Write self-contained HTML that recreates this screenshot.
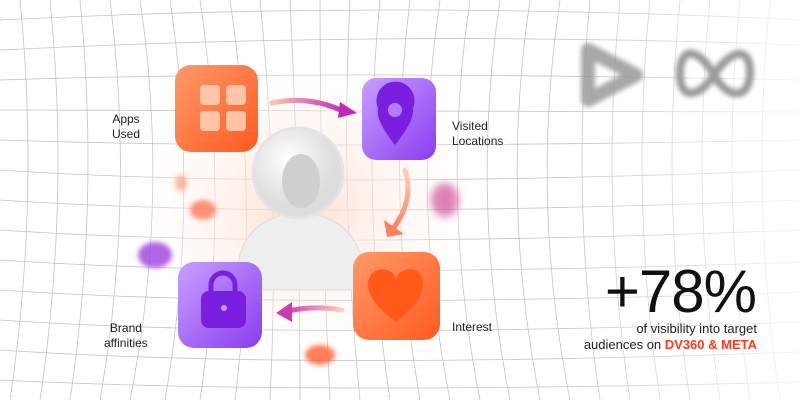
<!DOCTYPE html>
<html><head><meta charset="utf-8"><style>
html,body{margin:0;padding:0;background:#fff}
#w{position:relative;width:800px;height:400px;overflow:hidden;font-family:"Liberation Sans",sans-serif}
.l{position:absolute;font-size:12px;color:#222;line-height:15px}
</style></head><body><div id="w">
<svg width="800" height="400" style="position:absolute;left:0;top:0">
<defs>
<radialGradient id="glow" cx="50%" cy="50%" r="50%"><stop offset="0" stop-color="#ffd9c8" stop-opacity=".9"/><stop offset="1" stop-color="#fff" stop-opacity="0"/></radialGradient>
<linearGradient id="og" x1="0" y1="0" x2="1" y2="1"><stop offset="0" stop-color="#ff9a6a"/><stop offset="1" stop-color="#ff5a1f"/></linearGradient>
<linearGradient id="pg" x1="0" y1="0" x2="1" y2="1"><stop offset="0" stop-color="#c9a0ff"/><stop offset="1" stop-color="#8a3cf0"/></linearGradient>
<linearGradient id="ar1" x1="0" x2="1"><stop offset="0" stop-color="#ffc3b0"/><stop offset="1" stop-color="#c02ab8"/></linearGradient>
<linearGradient id="ar2" x1="0" y1="0" x2="0" y2="1"><stop offset="0" stop-color="#ffd0c0"/><stop offset="1" stop-color="#ff8060"/></linearGradient>
<linearGradient id="ar3" x1="1" x2="0"><stop offset="0" stop-color="#ffd0c0"/><stop offset="1" stop-color="#d03ab0"/></linearGradient>
<radialGradient id="head" cx="40%" cy="35%"><stop offset="0" stop-color="#fff"/><stop offset="1" stop-color="#ddd"/></radialGradient>
<linearGradient id="fade" x1="0" x2="1"><stop offset="0" stop-color="#fff" stop-opacity="0"/><stop offset=".7" stop-color="#fff" stop-opacity="0"/><stop offset="1" stop-color="#fff" stop-opacity=".8"/></linearGradient>
<filter id="b2" x="-50%" y="-50%" width="200%" height="200%"><feGaussianBlur stdDeviation="2.5"/></filter>
<filter id="b4" x="-50%" y="-50%" width="200%" height="200%"><feGaussianBlur stdDeviation="4"/></filter>
</defs>
<g stroke="#c4c4c4" stroke-width="0.8" fill="none">
<path d="M0 20 Q400 0 800 20M0 50 Q400 30 800 45M0 80 Q300 70 800 80M0 110 Q300 110 800 112M0 140 Q300 150 800 140M0 170 Q300 190 800 170M0 200 Q300 220 800 200M0 230 Q300 250 800 230M0 260 Q300 280 800 262M0 290 Q300 310 800 292M0 320 Q300 340 800 322M0 350 Q300 370 800 352M0 380 Q300 395 800 382"/>
<path d="M20 0 Q40 200 10 400M50 0 Q70 200 40 400M80 0 Q100 200 70 400M110 0 Q135 200 100 400M140 0 Q170 200 130 400M170 0 Q200 200 165 400M200 0 Q230 200 200 400M230 0 Q260 200 235 400M260 0 Q280 200 270 400M290 0 Q300 200 300 400M320 0 Q320 200 330 400M350 0 Q340 200 360 400M380 0 Q360 200 390 400M410 0 Q385 200 420 400M440 0 Q410 200 450 400M470 0 Q440 200 480 400M500 0 Q470 200 510 400M530 0 Q500 200 540 400M560 0 Q530 200 570 400M590 0 Q570 200 600 400M620 0 Q600 200 630 400M650 0 Q630 200 660 400M680 0 Q660 200 690 400M710 0 Q690 200 720 400M740 0 Q720 200 750 400M770 0 Q750 200 780 400"/>
</g>
<rect x="0" y="0" width="800" height="400" fill="url(#fade)"/>
<ellipse cx="300" cy="210" rx="190" ry="160" fill="url(#glow)"/>
<!-- person -->
<path d="M237 290 Q232 218 300 212 Q368 218 363 290 Z" fill="#eee" stroke="#ddd"/>
<circle cx="298" cy="173" r="45" fill="url(#head)" stroke="#e4e4e4" stroke-width="3"/>
<ellipse cx="301" cy="181" rx="19" ry="27" fill="#cfcfcf"/>
<!-- arrows -->
<path d="M272 103 Q310 95 345 112" stroke="url(#ar1)" stroke-width="5" fill="none" stroke-linecap="round"/>
<path d="M340 102 L357 113 L338 118Z" fill="#c02ab8"/>
<path d="M405 170 Q415 200 392 230" stroke="url(#ar2)" stroke-width="5" fill="none" stroke-linecap="round"/>
<path d="M384 220 L387 237 L404 234Z" fill="#ff8060"/>
<path d="M342 310 Q310 305 285 312" stroke="url(#ar3)" stroke-width="5" fill="none" stroke-linecap="round"/>
<path d="M292 302 L276 313 L292 322Z" fill="#d03ab0"/>
<!-- boxes -->
<rect x="175" y="65" width="83" height="87" rx="16" fill="url(#og)"/>
<rect x="200" y="85" width="20" height="20" rx="4" fill="#ffc4a6"/><rect x="226" y="85" width="20" height="20" rx="4" fill="#ffc4a6"/>
<rect x="200" y="111" width="20" height="20" rx="4" fill="#ffc4a6"/><rect x="226" y="111" width="20" height="20" rx="4" fill="#ffc4a6"/>
<rect x="362" y="78" width="74" height="82" rx="14" fill="url(#pg)"/>
<path d="M395 145 Q375 120 378 108 A19 19 0 1 1 413 108 Q415 120 395 145Z" fill="#7a1ee0"/>
<circle cx="395" cy="110" r="7" fill="#b47cff"/>
<rect x="353" y="252" width="87" height="88" rx="16" fill="url(#og)"/>
<path d="M396 322 Q366 300 368 282 Q372 266 387 270 Q394 272 396 280 Q398 272 405 270 Q420 266 423 282 Q425 300 396 322Z" fill="#ff5a1a"/>
<rect x="178" y="262" width="84" height="86" rx="16" fill="url(#pg)"/>
<rect x="201" y="291" width="45" height="37" rx="8" fill="#7a1ee0"/>
<path d="M211 293 V285 A12 12 0 0 1 235 285 V293" stroke="#7a1ee0" stroke-width="5" fill="none"/>
<circle cx="224" cy="308" r="3" fill="#c9a0ff"/>
<!-- floating blobs -->
<ellipse cx="203" cy="210" rx="13" ry="10" fill="#ff7a5a" filter="url(#b2)" opacity=".8"/>
<ellipse cx="181" cy="183" rx="6" ry="8" fill="#ff9a7a" filter="url(#b2)" opacity=".7"/>
<ellipse cx="155" cy="255" rx="17" ry="13" fill="#a040e0" filter="url(#b2)" opacity=".8"/>
<ellipse cx="445" cy="200" rx="14" ry="17" fill="#d0509a" filter="url(#b4)" opacity=".7"/>
<ellipse cx="320" cy="355" rx="15" ry="10" fill="#ff6030" filter="url(#b2)" opacity=".8"/>
<!-- logos -->
<path d="M588 50 L636 75 L588 100 Z" stroke="#999" stroke-width="14" stroke-linejoin="round" fill="none" filter="url(#b2)" opacity=".85"/>
<path d="M714 75 C700 50 682 45 680 70 C678 100 698 100 714 75 C730 50 750 45 750 72 C750 100 728 100 714 75Z" stroke="#999" stroke-width="8" fill="none" filter="url(#b2)"/>
</svg>
<div class="l" style="left:112px;top:112px;text-align:center">Apps<br>Used</div>
<div class="l" style="left:452px;top:119px">Visited<br>Locations</div>
<div class="l" style="left:452px;top:320px">Interest</div>
<div class="l" style="left:104px;top:321px;text-align:center">Brand<br>affinities</div>
<div style="position:absolute;right:44px;top:262px;font-size:60px;font-weight:300;color:#111;line-height:60px;letter-spacing:-1px">+78%</div>
<div style="position:absolute;right:43px;top:321px;font-size:13px;color:#222;text-align:right;line-height:16px">of visibility into target<br>audiences on <b style="color:#ff3a1a">DV360 &amp; META</b></div>
</div></body></html>
